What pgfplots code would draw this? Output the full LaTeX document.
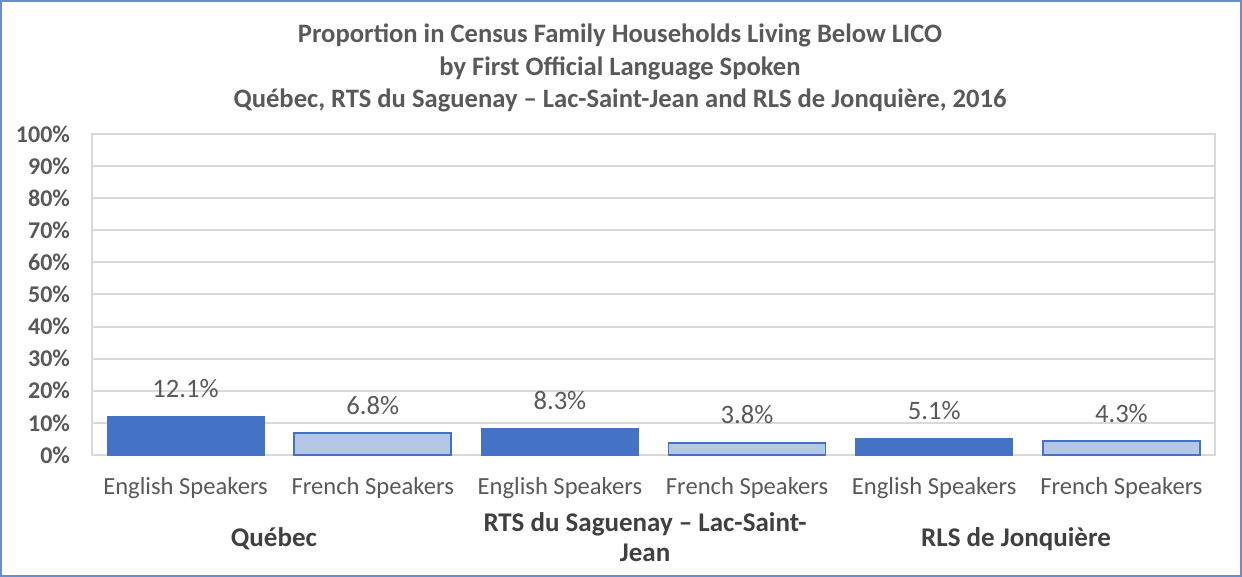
\documentclass[border=0pt]{standalone}
\usepackage{pgfplots}
\pgfplotsset{compat=1.18}
\usepackage{fontspec}
\setmainfont{Carlito}
\definecolor{dblue}{HTML}{4472C4}
\definecolor{lblue}{HTML}{B4C7E7}
\definecolor{txtgray}{HTML}{595959}
\definecolor{grpgray}{HTML}{404040}
\definecolor{gridgray}{HTML}{D9D9D9}
\begin{document}
\begin{tikzpicture}[x=1pt,y=1pt]
\draw[color=dblue!80, line width=1pt] (0.5,0.5) rectangle (620.5,288);
\begin{axis}[
  at={(46pt,61pt)}, anchor=south west,
  scale only axis, width=561.5pt, height=160.5pt,
  xmin=-0.5, xmax=5.5, ymin=0, ymax=100,
  xtick={0,1,2,3,4,5},
  xticklabels={English Speakers,French Speakers,English Speakers,French Speakers,English Speakers,French Speakers},
  ytick={0,10,...,100},
  yticklabel={\pgfmathprintnumber{\tick}\%},
  /pgf/number format/assume math mode=true,
  yticklabel style={font=\fontsize{12}{13}\selectfont\bfseries, text=txtgray, xshift=-7.5pt},
  xticklabel style={font=\fontsize{12.3}{13}\selectfont, text=txtgray, yshift=-7.5pt},
  major tick length=0pt,
  ymajorgrids, grid style={gridgray, line width=1pt},
  axis line style={gridgray, line width=1pt},
  clip=false,
  nodes near coords={\pgfmathprintnumber[fixed,precision=1,fixed zerofill]{\pgfplotspointmeta}\%},
  nodes near coords style={font=\fontsize{13.3}{14}\selectfont, text=txtgray, anchor=center, yshift=14pt},
  point meta=y,
]
\addplot[ybar, bar shift=0pt, bar width=78.5pt, fill=dblue, draw=dblue] coordinates {(0,12.1) (2,8.3) (4,5.1)};
\addplot[ybar, bar shift=0pt, bar width=78.5pt, fill=lblue, draw=dblue, line width=0.8pt] coordinates {(1,6.8) (3,3.8) (5,4.3)};
\node[font=\fontsize{13.5}{15}\selectfont\bfseries, text=grpgray] at (axis cs:0.472,0) [yshift=-42pt] {Québec};
\node[font=\fontsize{13.5}{15}\selectfont\bfseries, text=grpgray, align=center] at (axis cs:2.455,0) [yshift=-41pt] {RTS du Saguenay – Lac-Saint-\\Jean};
\node[font=\fontsize{13.5}{15}\selectfont\bfseries, text=grpgray] at (axis cs:4.437,0) [yshift=-42pt] {RLS de Jonquière};
\end{axis}
\node[font=\fontsize{13.3}{16.3}\selectfont\bfseries, text=txtgray, align=center] at (310,254.5) {Proportion in Census Family Households Living Below LICO\\by First Official Language Spoken\\Québec, RTS du Saguenay – Lac-Saint-Jean and RLS de Jonquière, 2016};
\end{tikzpicture}
\end{document}
